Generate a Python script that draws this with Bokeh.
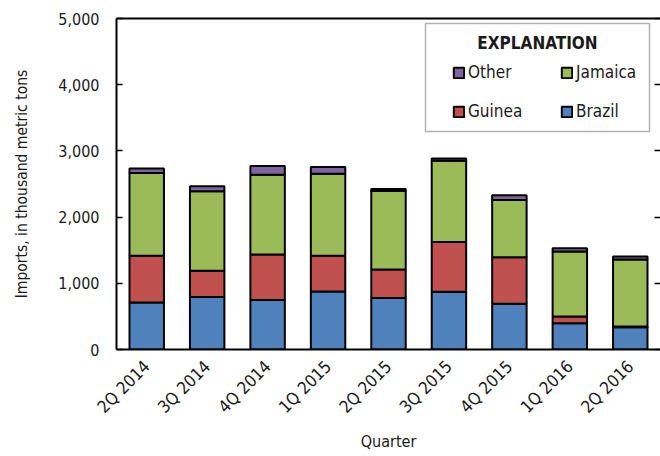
import math
from bokeh.plotting import figure
from bokeh.models import (ColumnDataSource, Range1d, LinearAxis, CategoricalAxis,
                          Legend, LegendItem, Label, BoxAnnotation, NumeralTickFormatter,
                          FixedTicker)
from bokeh.embed import file_html
from bokeh.resources import INLINE

quarters = ["2Q 2014", "3Q 2014", "4Q 2014", "1Q 2015", "2Q 2015",
            "3Q 2015", "4Q 2015", "1Q 2016", "2Q 2016"]
brazil  = [710, 793, 748, 878, 778, 873, 692, 397, 336]
guinea  = [706, 397, 688, 538, 432, 751, 701, 100, 10]
jamaica = [1250, 1200, 1205, 1240, 1185, 1227, 866, 984, 1014]
other   = [70, 75, 130, 100, 30, 36, 70, 50, 46]

series = ["brazil", "guinea", "jamaica", "other"]
names = ["Brazil", "Guinea", "Jamaica", "Other"]
colors = ["#4F81BD", "#C0504D", "#9BBB59", "#8064A2"]
y_ticks = [0, 1000, 2000, 3000, 4000, 5000]

FONT = "'Liberation Sans Narrow', 'Arial Narrow', 'DejaVu Sans Condensed', sans-serif"
FS = "16px"
TXT = "#1a1a1a"

source = ColumnDataSource(dict(quarter=quarters, brazil=brazil, guinea=guinea,
                               jamaica=jamaica, other=other))

p = figure(x_range=quarters, y_range=Range1d(0, 5000), width=660, height=456,
           output_backend="svg", toolbar_location=None,
           min_border_left=116, min_border_right=0, min_border_top=18,
           min_border_bottom=107)
p.outline_line_color = None
p.xgrid.grid_line_color = None
p.ygrid.grid_line_color = None
p.background_fill_color = "white"

renderers = p.vbar_stack(series, x="quarter", width=0.57, source=source,
                         color=colors, line_color="black", line_width=2)

# left axis
ya = p.yaxis[0]
ya.ticker = FixedTicker(ticks=y_ticks)
ya.formatter = NumeralTickFormatter(format="0,0")
ya.major_tick_in = 6
ya.major_tick_out = 0
ya.minor_tick_line_color = None
ya.axis_line_width = 2
ya.axis_line_color = "black"
ya.major_tick_line_width = 1.5
ya.major_label_text_font = FONT
ya.major_label_text_font_size = FS
ya.major_label_text_color = TXT
ya.major_label_standoff = 17
ya.axis_label = "Imports, in thousand metric tons"
ya.axis_label_text_font = FONT
ya.axis_label_text_font_size = "15.5px"
ya.axis_label_text_font_style = "normal"
ya.axis_label_text_color = TXT
ya.axis_label_standoff = 24

# bottom axis
xa = p.xaxis[0]
xa.major_tick_line_color = None
xa.minor_tick_line_color = None
xa.axis_line_width = 2
xa.axis_line_color = "black"
xa.major_label_orientation = math.pi / 4
xa.major_label_text_font = FONT
xa.major_label_text_font_size = "17px"
xa.major_label_text_color = TXT
xa.major_label_standoff = 8
xa.axis_label = "Quarter"
xa.axis_label_text_font = FONT
xa.axis_label_text_font_size = FS
xa.axis_label_text_font_style = "normal"
xa.axis_label_text_color = TXT
xa.axis_label_standoff = 5

# top frame line
top = CategoricalAxis(major_tick_line_color=None, minor_tick_line_color=None,
                      major_label_text_color=None, axis_line_width=2,
                      axis_line_color="black", major_label_standoff=0)
p.add_layout(top, "above")

# right side inward ticks
right = LinearAxis(ticker=FixedTicker(ticks=y_ticks), axis_line_color=None,
                   major_tick_in=6, major_tick_out=0, minor_tick_line_color=None,
                   major_tick_line_width=1.5, major_label_text_color=None,
                   major_label_standoff=0)
p.add_layout(right, "right")

# legend box
box = BoxAnnotation(left=309, right=533, top=326, bottom=218,
                    left_units="screen", right_units="screen",
                    top_units="screen", bottom_units="screen",
                    fill_color="white", fill_alpha=1.0,
                    line_color="black", line_width=1.5)
p.add_layout(box)

r = dict(zip(names, renderers))
items = [LegendItem(label=n, renderers=[r[n]]) for n in ["Other", "Jamaica", "Guinea", "Brazil"]]
legend = Legend(items=items, location=(336, 228), orientation="horizontal", ncols=2,
                padding=0, margin=0, spacing=19, border_line_color=None,
                background_fill_alpha=0, glyph_width=13, glyph_height=13,
                label_height=16, label_width=73, label_standoff=3,
                label_text_font=FONT, label_text_font_size="17px",
                label_text_color=TXT)
p.add_layout(legend)

title = Label(x=421, y=307, x_units="screen", y_units="screen", text="EXPLANATION",
              text_align="center", text_baseline="middle", text_font=FONT,
              text_font_size="17px", text_font_style="bold", text_color=TXT)
p.add_layout(title)

open("out.html", "w").write(file_html(p, INLINE))
